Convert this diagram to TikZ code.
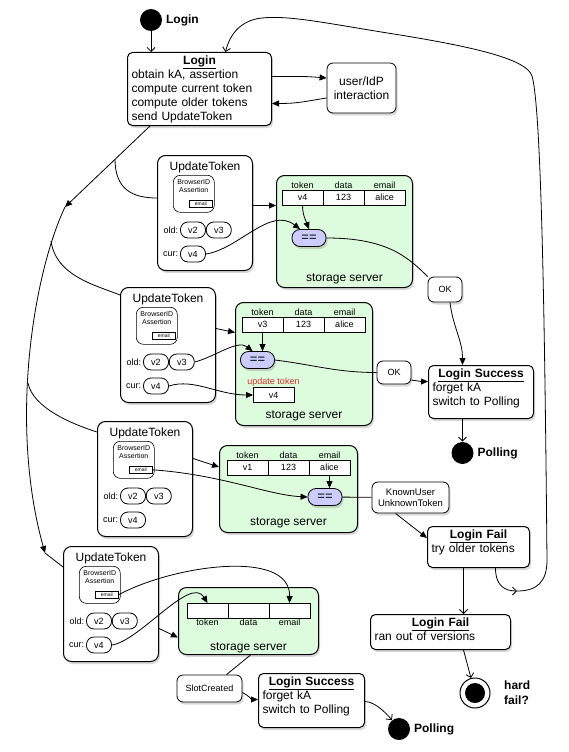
\documentclass[tikz,border=0pt]{standalone}
\usepackage{fontspec}
\setmainfont{Liberation Sans}
\usetikzlibrary{arrows.meta,shadows,positioning}

\definecolor{storegreen}{RGB}{221,251,221}
\definecolor{eqblue}{RGB}{204,204,255}
\definecolor{updred}{RGB}{214,48,39}

\newcommand{\boxhead}[1]{{\centering\underline{\textbf{#1}}\par}}
\newcommand{\sz}[1]{\fontsize{#1}{#1}\selectfont}

\tikzset{
  shade/.style={drop shadow={shadow xshift=1.5pt,shadow yshift=-2.5pt,opacity=.3}},
  state/.style={draw, fill=white, line width=1pt, rounded corners=5pt, anchor=north west,
    align=left, inner xsep=4pt, inner ysep=3pt, text height=8.6pt, shade},
  msg/.style={draw, fill=white, line width=1pt, rounded corners=8pt, anchor=north west,
    minimum width=95pt, inner ysep=6pt, text height=9pt, text depth=94pt, shade},
  bid/.style={draw, line width=0.6pt, rounded corners=7pt, anchor=north west, text width=37pt,
    align=center, inner xsep=2pt, inner ysep=4pt, text height=5.2pt, text depth=23.8pt,
    font=\fontsize{7}{8}\selectfont},
  mailbox/.style={draw, line width=0.6pt, fill=white, anchor=south east, minimum width=23pt,
    minimum height=7pt, inner sep=0pt, font=\sz{5}},
  tok/.style={draw, line width=0.8pt, rounded corners=7.5pt, minimum width=25pt,
    minimum height=16pt, inner sep=0pt, font=\sz{9}},
  side/.style={inner sep=1.5pt, font=\sz{9}},
  store/.style={draw, fill=storegreen, line width=1pt, rounded corners=8pt, anchor=north west,
    inner ysep=2pt, shade},
  cell/.style={draw, fill=white, line width=0.7pt, minimum width=41pt, minimum height=15pt,
    inner sep=0pt, outer sep=0pt, font=\sz{9}},
  head/.style={inner sep=1pt, font=\sz{9}},
  eq/.style={draw, fill=eqblue, line width=0.8pt, rounded corners=8pt, minimum width=34pt,
    minimum height=17pt, inner sep=0pt, font=\sz{13}, shade},
  tag/.style={draw, fill=white, line width=0.8pt, rounded corners=6pt, align=center,
    inner sep=2pt, font=\fontsize{9}{11}\selectfont, shade},
  dot/.style={circle, fill=black, minimum size=22pt, inner sep=0pt},
  bold/.style={font=\fontsize{12}{15}\selectfont\bfseries},
  arr/.style={-{Triangle[length=7pt,width=6pt]}},
  barb/.style={-{Straight Barb[length=4pt,width=8pt]}}
}

\begin{document}
\begin{tikzpicture}[x=1pt,y=-1pt,line width=0.8pt,font=\fontsize{12}{14}\selectfont]
\useasboundingbox (0,0) rectangle (568,752);

\node[dot,label={[bold]right:Login}] (start) at (151,20) {};
\node[state,text width=136pt,text depth=58.4pt] (login) at (127,52)
  {\boxhead{Login}obtain kA, assertion\\compute current token\\compute older tokens\\send UpdateToken};
\node[tag,font=\fontsize{12}{14}\selectfont,minimum width=69pt,minimum height=50pt] (idp) at (361.5,88) {user/IdP\\interaction};

\node[msg] (upd1) at (157,155) {UpdateToken};
\node[bid] (bid1) at ([shift={(16,20)}]upd1.north west) {BrowserID\\Assertion};
\node[mailbox] (mail1) at ([shift={(-2,-5)}]bid1.south east) {email};
\node[tok,label={[side]left:old:}] (old1a) at ([shift={(36,75)}]upd1.north west) {v2};
\node[tok,right=0pt of old1a] (old1b) {v3};
\node[tok,label={[side]left:cur:}] (cur1) at ([shift={(36,99)}]upd1.north west) {v4};

\node[msg] (upd2) at (120,287) {UpdateToken};
\node[bid] (bid2) at ([shift={(16,20)}]upd2.north west) {BrowserID\\Assertion};
\node[mailbox] (mail2) at ([shift={(-2,-5)}]bid2.south east) {email};
\node[tok,label={[side]left:old:}] (old2a) at ([shift={(36,75)}]upd2.north west) {v2};
\node[tok,right=0pt of old2a] (old2b) {v3};
\node[tok,label={[side]left:cur:}] (cur2) at ([shift={(36,99)}]upd2.north west) {v4};

\node[msg] (upd3) at (97,421) {UpdateToken};
\node[bid] (bid3) at ([shift={(16,20)}]upd3.north west) {BrowserID\\Assertion};
\node[mailbox] (mail3) at ([shift={(-2,-5)}]bid3.south east) {email};
\node[tok,label={[side]left:old:}] (old3a) at ([shift={(36,75)}]upd3.north west) {v2};
\node[tok,right=0pt of old3a] (old3b) {v3};
\node[tok,label={[side]left:cur:}] (cur3) at ([shift={(36,99)}]upd3.north west) {v4};

\node[msg] (upd4) at (63,546) {UpdateToken};
\node[bid] (bid4) at ([shift={(16,20)}]upd4.north west) {BrowserID\\Assertion};
\node[mailbox] (mail4) at ([shift={(-2,-5)}]bid4.south east) {email};
\node[tok,label={[side]left:old:}] (old4a) at ([shift={(36,75)}]upd4.north west) {v2};
\node[tok,right=0pt of old4a] (old4b) {v3};
\node[tok,label={[side]left:cur:}] (cur4) at ([shift={(36,99)}]upd4.north west) {v4};

\node[store,minimum width=136pt,minimum height=112pt,text height=104pt,text depth=4pt] (store1) at (276,175) {storage server};
\node[cell,label={[head]above:token}] (s1tok) at ([shift={(26.5,22.5)}]store1.north west) {v4};
\node[cell,right=0pt of s1tok,label={[head]above:data}] (s1dat) {123};
\node[cell,right=0pt of s1dat,label={[head]above:email}] (s1mail) {alice};
\node[eq] (eq1) at ([shift={(33,63)}]store1.north west) {==};

\node[store,minimum width=137pt,minimum height=123pt,text height=114pt,text depth=5pt] (store2) at (235,302) {storage server};
\node[cell,label={[head]above:token}] (s2tok) at ([shift={(27.5,22.5)}]store2.north west) {v3};
\node[cell,right=0pt of s2tok,label={[head]above:data}] (s2dat) {123};
\node[cell,right=0pt of s2dat,label={[head]above:email}] (s2mail) {alice};
\node[eq] (eq2) at ([shift={(22.5,58)}]store2.north west) {==};
\node[cell,label={[head,text=updred]above:update token}] (s2new) at ([shift={(38.5,93)}]store2.north west) {v4};

\node[store,minimum width=138pt,minimum height=87pt,text height=78pt,text depth=5pt] (store3) at (219,445) {storage server};
\node[cell,label={[head]above:token}] (s3tok) at ([shift={(28.5,22.5)}]store3.north west) {v1};
\node[cell,right=0pt of s3tok,label={[head]above:data}] (s3dat) {123};
\node[cell,right=0pt of s3dat,label={[head]above:email}] (s3mail) {alice};
\node[eq] (eq3) at ([shift={(106,52)}]store3.north west) {==};

\node[store,minimum width=140pt,minimum height=67pt,text height=61pt,text depth=2pt] (store4) at (178,587) {storage server};
\node[cell,label={[head]below:token}] (s4tok) at ([shift={(29.5,23.5)}]store4.north west) {};
\node[cell,right=0pt of s4tok,label={[head]below:data}] (s4dat) {};
\node[cell,right=0pt of s4dat,label={[head]below:email}] (s4mail) {};

\node[tag,minimum width=34pt,minimum height=25pt] (ok1) at (445,289.5) {OK};
\node[tag,minimum width=34pt,minimum height=23pt] (ok2) at (394,372.5) {OK};
\node[tag,minimum width=77pt,minimum height=31pt,font=\fontsize{9.5}{11}\selectfont] (known) at (410.5,497.5) {KnownUser\\UnknownToken};
\node[tag,minimum width=65pt,minimum height=27pt] (slot) at (209.5,688.5) {SlotCreated};

\node[state,text width=97pt,text depth=38.4pt] (ls1) at (428,365) {\boxhead{Login Success}forget kA\\switch to Polling};
\node[state,text width=94pt,text depth=26.4pt] (lf1) at (427,526) {\boxhead{Login Fail}try older tokens};
\node[state,text width=132pt,text depth=20.4pt] (lf2) at (370,614) {\boxhead{Login Fail}ran out of versions};
\node[state,text width=98pt,text depth=39.4pt] (ls2) at (258,673) {\boxhead{Login Success}forget kA\\switch to Polling};

\node[dot,label={[bold]right:Polling}] (poll1) at (462.5,453) {};
\node[dot,label={[bold]right:Polling}] (poll2) at (399,729) {};
\node[circle,draw,fill=white,line width=1pt,minimum size=30pt,inner sep=0pt,
  path picture={\fill[black] (path picture bounding box.center) circle (10pt);},
  label={[bold,align=left,label distance=10pt]right:hard\\fail?}] (hard) at (475,693) {};

\coordinate (fork1) at (65,207);
\coordinate (fork2) at (45,553);
\coordinate (br1) at (115,159);
\coordinate (br2) at (51,241);
\coordinate (br3) at (28,383);
\coordinate (back) at (517,591);

\draw[barb] (start) -- (start |- login.north);
\draw[arr] ([yshift=12.5pt]login.east) .. controls +(25,0) and +(-25,-2) .. ([yshift=10pt]idp.west);
\draw[arr] ([yshift=-10pt]idp.west) .. controls +(-25,4) and +(25,0) .. ([yshift=-14.5pt]login.east);

\draw[arr] ([xshift=23pt]login.south west) -- (fork1);
\draw[arr] (fork1) .. controls (35,270) and (8,420) .. (fork2);
\draw (fork2) -- (upd4);
\draw (br1) .. controls +(0,30) and +(-25,0) .. ([yshift=15pt]upd1.west);
\draw (br2) .. controls +(5,35) and +(-25,-10) .. ([yshift=-8pt]upd2.north west);
\draw (br3) .. controls +(5,25) and +(-25,-8) .. ([yshift=-11pt]upd3.north west);

\draw[arr] ([yshift=7.5pt]upd1.east) -- ([yshift=26pt]store1.west);
\draw[arr] (s1tok.south) .. controls +(0,10) and +(-3,-8) .. (eq1.north);
\draw[arr] (cur1.east) .. controls +(33,-5) and +(-30,-23) .. ([xshift=-9pt]eq1.north);
\draw (eq1.east) .. controls +(60,0) and +(-20,-20) .. (ok1.north west);
\draw[arr] ([xshift=5pt]ok1.south) .. controls +(3,25) and +(0,-25) .. ([xshift=-18.5pt]ls1.north);

\draw[arr] ([yshift=16.5pt]upd2.east) -- ([yshift=31.5pt]store2.west);
\draw[arr] (s2tok.south) -- (s2tok.south |- eq2.north);
\draw[arr] (old2b.east) .. controls +(20,-5) and +(-15,-12) .. ([xshift=-5pt]eq2.north);
\draw[arr] (cur2.east) .. controls +(25,-8) and +(-35,0) .. (s2new.west);
\draw (eq2.east) .. controls +(40,5) and +(-40,0) .. (ok2.west);
\draw[arr] ([yshift=-7.5pt]ok2.east) .. controls +(6,1) and +(-6,0) .. ([yshift=10.5pt]ls1.west);
\draw[barb] (ls1.south -| poll1) -- (poll1);

\draw[arr] ([yshift=20.5pt]upd3.east) -- ([yshift=22pt]store3.west);
\draw[arr] (s3mail.south) -- (s3mail.south |- eq3.north);
\draw[arr] (mail3.east) .. controls +(70,5) and +(-40,-2) .. (eq3.west);
\draw (eq3) -- (known);
\draw[arr] ([xshift=-15pt]known.south) -- ([yshift=-12pt]lf1.north west);
\draw[barb] ([xshift=-15pt]lf1.south) -- ([xshift=-15pt]lf1.south |- lf2.north);
\draw[barb] ([xshift=23pt]lf2.south) -- (hard);
\draw[barb] ([xshift=17pt]lf1.south) .. controls +(0,18) and +(-12,0) .. (back);
\draw[barb] (back) .. controls (537,591) and (547,582) .. (547,560)
  .. controls (545,350) and (542,110) .. (532,76)
  .. controls (527,60) and (480,48) .. (400,35)
  .. controls (330,24) and (290,15) .. (262,18)
  .. controls (242,20) and (230,33) .. ([xshift=26pt]login.north);

\draw[arr] ([yshift=-24.5pt]upd4.east) -- ([yshift=-16.5pt]store4.west);
\draw[arr] (mail4.east) .. controls +(53,-29) and +(1,-55) .. (s4mail.north);
\draw[arr] (cur4.east) .. controls +(28,-4) and +(-17,-28) .. (s4tok.north);
\draw ([xshift=2pt]store4.south) -- (slot);
\draw[arr] ([yshift=-4pt]slot.east) .. controls +(6,3) and +(-6,0) .. ([yshift=1pt]ls2.west);
\draw[barb] ([yshift=-1pt]ls2.east) .. controls +(12,0) and +(-8,-10) .. (poll2);
\end{tikzpicture}
\end{document}
